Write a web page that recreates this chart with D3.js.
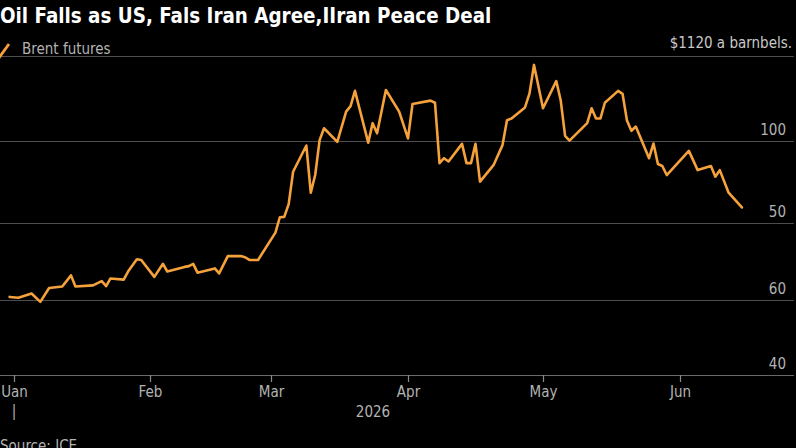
<!DOCTYPE html>
<html>
<head>
<meta charset="utf-8">
<script src="https://cdn.jsdelivr.net/npm/d3@7/dist/d3.min.js"></script>
<style>
  body { margin: 0; background: #000; }
  svg { display: block; background: #000; }
  text { font-family: "DejaVu Sans Condensed", "DejaVu Sans", sans-serif; font-stretch: condensed; }
</style>
</head>
<body>
<svg id="chart"></svg>
<script>
// Chart values
const title = "Oil Falls as US, Fals Iran Agree,IIran Peace Deal";
const seriesName = "Brent futures";
const unitLabel = "$1120 a barnbels.";
const sourceText = "Source: ICE";
const yearLabel = "2026";

const monthTicks = ["2026-01-01", "2026-02-01", "2026-03-01", "2026-04-01", "2026-05-01", "2026-06-01"];
const monthLabels = ["Uan", "Feb", "Mar", "Apr", "May", "Jun"];

const yTicks = [40, 60, 80, 100, 120];
const yTickLabels = ["40", "60", "50", "100", ""];

const dates = [
  "2025-12-31", "2026-01-02", "2026-01-05", "2026-01-07", "2026-01-09", "2026-01-12", "2026-01-14", "2026-01-15",
  "2026-01-19", "2026-01-21", "2026-01-22", "2026-01-23", "2026-01-26", "2026-01-27", "2026-01-29", "2026-01-30",
  "2026-02-02", "2026-02-04", "2026-02-05", "2026-02-09", "2026-02-10", "2026-02-11", "2026-02-12", "2026-02-16",
  "2026-02-17", "2026-02-19", "2026-02-22", "2026-02-23", "2026-02-24", "2026-02-26",
  "2026-03-02", "2026-03-03", "2026-03-04", "2026-03-05", "2026-03-06", "2026-03-09", "2026-03-10", "2026-03-11",
  "2026-03-12", "2026-03-13", "2026-03-16", "2026-03-18", "2026-03-19", "2026-03-20", "2026-03-23", "2026-03-24",
  "2026-03-25", "2026-03-27", "2026-03-30",
  "2026-04-01", "2026-04-02", "2026-04-06", "2026-04-07", "2026-04-08", "2026-04-09", "2026-04-10", "2026-04-13",
  "2026-04-14", "2026-04-15", "2026-04-16", "2026-04-17", "2026-04-20", "2026-04-22", "2026-04-23", "2026-04-24",
  "2026-04-27", "2026-04-28", "2026-04-29",
  "2026-05-01", "2026-05-04", "2026-05-05", "2026-05-06", "2026-05-07", "2026-05-11", "2026-05-12", "2026-05-13",
  "2026-05-14", "2026-05-15", "2026-05-18", "2026-05-19", "2026-05-20", "2026-05-21", "2026-05-22", "2026-05-25",
  "2026-05-26", "2026-05-27", "2026-05-28", "2026-05-29",
  "2026-06-03", "2026-06-05", "2026-06-08", "2026-06-09", "2026-06-10", "2026-06-12", "2026-06-15"
];

const prices = [
  60.8, 60.6, 61.7, 59.5, 63.1, 63.5, 66.4, 63.5, 63.8, 64.9, 63.6, 65.6, 65.3, 67.4, 70.6, 70.4,
  66.0, 69.4, 67.4, 68.6, 68.8, 69.4, 67.1, 68.2, 66.9, 71.4, 71.4, 71.1, 70.4, 70.4,
  77.5, 81.4, 81.5, 84.6, 92.5, 98.9, 87.4, 91.7, 100.2, 103.0, 99.8, 106.9, 108.2, 111.8, 99.6, 104.2,
  101.8, 112.0, 106.9,
  100.6, 108.7, 109.5, 109.0, 94.6, 95.8, 95.0, 99.3, 94.6, 94.6, 99.3, 90.1, 94.1, 99.0, 104.9, 105.3,
  107.9, 111.2, 117.9,
  107.7, 114.1, 109.6, 101.2, 100.1, 104.2, 107.7, 105.3, 105.3, 109.0, 111.8, 111.1, 104.8, 102.4, 103.4, 95.8,
  99.4, 94.4, 93.9, 91.7,
  97.6, 92.9, 93.9, 91.3, 92.9, 87.4, 83.8
];

// Layout
const width = 796;
const height = 448;
const parse = d3.timeParse("%Y-%m-%d");
const data = dates.map((d, i) => ({ date: parse(d), value: prices[i] }));

const svg = d3.select("#chart")
  .attr("width", width)
  .attr("height", height);

// Scales (the reference's grid is slightly uneven, so both are piecewise)
const x = d3.scaleTime()
  .domain(monthTicks.map(parse))
  .range([14, 150, 271, 408, 543, 680]);

const y = d3.scaleLinear()
  .domain(yTicks)
  .range([375, 300, 223, 141, 56]);

const labelColor = "#b3b3b3";

// Horizontal gridlines with labels sitting on top at the right edge
const yAxis = d3.axisRight(y)
  .tickValues(yTicks)
  .tickSize(794)
  .tickFormat((d, i) => yTickLabels[i]);

const gy = svg.append("g")
  .attr("class", "y-axis")
  .call(yAxis);
gy.select(".domain").remove();
gy.selectAll(".tick line")
  .attr("stroke", (d, i) => i === 0 ? "#6a6a6a" : "#4d4d4d")
  .attr("stroke-width", 1.2);
gy.selectAll(".tick text")
  .attr("x", 786)
  .attr("dy", "-6.5")
  .attr("text-anchor", "end")
  .attr("fill", labelColor)
  .style("font-size", "15px");

// Month axis
const xAxis = d3.axisBottom(x)
  .tickValues(monthTicks.map(parse))
  .tickSize(7)
  .tickPadding(4)
  .tickFormat((d, i) => monthLabels[i]);

const gx = svg.append("g")
  .attr("class", "x-axis")
  .attr("transform", `translate(0, ${y(40)})`)
  .call(xAxis);
gx.select(".domain").remove();
gx.selectAll(".tick line").attr("stroke", "#8a8a8a").attr("stroke-width", 1.2);
gx.selectAll(".tick text")
  .attr("fill", labelColor)
  .style("font-size", "15px");

svg.append("text")
  .attr("x", 373)
  .attr("y", 417)
  .attr("text-anchor", "middle")
  .attr("fill", labelColor)
  .style("font-size", "15px")
  .text(yearLabel);

svg.append("text")
  .attr("x", x(parse(monthTicks[0])))
  .attr("y", 416)
  .attr("text-anchor", "middle")
  .attr("fill", labelColor)
  .style("font-size", "15px")
  .text("|");

// Price line
const line = d3.line()
  .x(d => x(d.date))
  .y(d => y(d.value));

svg.append("path")
  .datum(data)
  .attr("fill", "none")
  .attr("stroke", "#f5a13c")
  .attr("stroke-width", 2.6)
  .attr("stroke-linejoin", "round")
  .attr("stroke-linecap", "round")
  .attr("d", line);

// Title, legend, unit label, source
svg.append("text")
  .attr("x", 0)
  .attr("y", 23)
  .attr("fill", "#fff")
  .style("font-size", "20.4px")
  .style("font-weight", "bold")
  .text(title);

svg.append("line")
  .attr("x1", -2).attr("y1", 59)
  .attr("x2", 9).attr("y2", 44)
  .attr("stroke", "#f5a13c")
  .attr("stroke-width", 2.8);

svg.append("text")
  .attr("x", 22)
  .attr("y", 54)
  .attr("fill", labelColor)
  .style("font-size", "15px")
  .text(seriesName);

svg.append("text")
  .attr("x", 792)
  .attr("y", 48)
  .attr("text-anchor", "end")
  .attr("fill", "#c8c8c8")
  .style("font-size", "15px")
  .text(unitLabel);

svg.append("text")
  .attr("x", 0)
  .attr("y", 451)
  .attr("fill", labelColor)
  .style("font-size", "15px")
  .text(sourceText);
</script>
</body>
</html>
